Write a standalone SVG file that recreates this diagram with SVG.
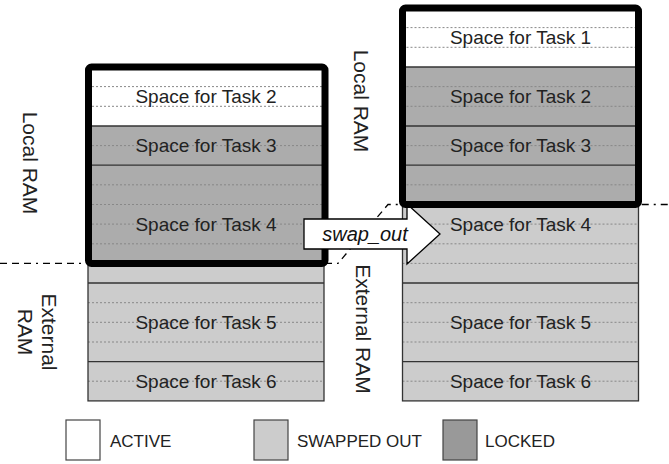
<svg xmlns="http://www.w3.org/2000/svg" width="669" height="464" viewBox="0 0 669 464">
<defs>
<style>
.active{fill:#ffffff}
.swapped{fill:#cccccc}
.locked{fill:#acacac}
.dot{stroke:#888888;stroke-width:1;stroke-dasharray:2,2;fill:none}
.sep{stroke:#333333;stroke-width:1.3;fill:none}
.col{stroke:#333333;stroke-width:1.3;fill:none}
.frame{stroke:#000000;stroke-width:7;fill:none;stroke-linejoin:round}
.cell{font-family:"Liberation Sans",Arial,sans-serif;font-size:19px;fill:#222222;text-anchor:middle;dominant-baseline:central}
.side{font-family:"Liberation Sans",Arial,sans-serif;font-size:21px;fill:#222222;text-anchor:middle;dominant-baseline:central}
.leg{font-family:"Liberation Sans",Arial,sans-serif;font-size:17px;fill:#222222;dominant-baseline:central}
.legbox{stroke:#444444;stroke-width:1.2}
</style>
</defs>
<rect width="669" height="464" fill="#ffffff"/>

<g id="boundary">
<path d="M0,263.4 L338,263.4 L388,204.5 L669,204.5" fill="none" stroke="#000" stroke-width="1.3" stroke-dasharray="7,5,7,5,7,5,2,5"/>
</g>

<g id="left-memory">
<rect class="active" x="88" y="67" width="236" height="59"/>
<rect class="locked" x="88" y="126" width="236" height="137.4"/>
<rect class="swapped" x="88" y="263.4" width="236" height="137.5"/>
<g class="dot">
<line x1="88" y1="86.6" x2="324" y2="86.6"/>
<line x1="88" y1="106.3" x2="324" y2="106.3"/>
<line x1="88" y1="145.6" x2="324" y2="145.6"/>
<line x1="88" y1="184.8" x2="324" y2="184.8"/>
<line x1="88" y1="204.5" x2="324" y2="204.5"/>
<line x1="88" y1="224.1" x2="324" y2="224.1"/>
<line x1="88" y1="243.8" x2="324" y2="243.8"/>
<line x1="88" y1="302.7" x2="324" y2="302.7"/>
<line x1="88" y1="322.3" x2="324" y2="322.3"/>
<line x1="88" y1="342" x2="324" y2="342"/>
<line x1="88" y1="381.2" x2="324" y2="381.2"/>
</g>
<g class="sep">
<line x1="88" y1="126" x2="324" y2="126"/>
<line x1="88" y1="165.2" x2="324" y2="165.2"/>
<line x1="88" y1="283" x2="324" y2="283"/>
<line x1="88" y1="361.6" x2="324" y2="361.6"/>
</g>
<rect class="col" x="88" y="67" width="236" height="333.9"/>
<text class="cell" x="206" y="96.5">Space for Task 2</text>
<text class="cell" x="206" y="145.6">Space for Task 3</text>
<text class="cell" x="206" y="224.1">Space for Task 4</text>
<text class="cell" x="206" y="322.3">Space for Task 5</text>
<text class="cell" x="206" y="381.2">Space for Task 6</text>
<rect class="frame" x="88.5" y="67" width="236.5" height="196.4" rx="3"/>
<text class="side" transform="translate(30,163) rotate(90)">Local RAM</text>
<text class="side" transform="translate(49,332) rotate(90)">External</text>
<text class="side" transform="translate(25,332) rotate(90)">RAM</text>
</g>

<g id="right-memory">
<rect class="active" x="402.5" y="8" width="236" height="59"/>
<rect class="locked" x="402.5" y="67" width="236" height="137.5"/>
<rect class="swapped" x="402.5" y="204.5" width="236" height="196.4"/>
<g class="dot">
<line x1="402.5" y1="27.6" x2="638.5" y2="27.6"/>
<line x1="402.5" y1="47.3" x2="638.5" y2="47.3"/>
<line x1="402.5" y1="86.6" x2="638.5" y2="86.6"/>
<line x1="402.5" y1="106.3" x2="638.5" y2="106.3"/>
<line x1="402.5" y1="145.6" x2="638.5" y2="145.6"/>
<line x1="402.5" y1="184.8" x2="638.5" y2="184.8"/>
<line x1="402.5" y1="224.1" x2="638.5" y2="224.1"/>
<line x1="402.5" y1="243.8" x2="638.5" y2="243.8"/>
<line x1="402.5" y1="263.4" x2="638.5" y2="263.4"/>
<line x1="402.5" y1="302.7" x2="638.5" y2="302.7"/>
<line x1="402.5" y1="322.3" x2="638.5" y2="322.3"/>
<line x1="402.5" y1="342" x2="638.5" y2="342"/>
<line x1="402.5" y1="381.2" x2="638.5" y2="381.2"/>
</g>
<g class="sep">
<line x1="402.5" y1="67" x2="638.5" y2="67"/>
<line x1="402.5" y1="126" x2="638.5" y2="126"/>
<line x1="402.5" y1="165.2" x2="638.5" y2="165.2"/>
<line x1="402.5" y1="283" x2="638.5" y2="283"/>
<line x1="402.5" y1="361.6" x2="638.5" y2="361.6"/>
</g>
<rect class="col" x="402.5" y="8" width="236" height="392.9"/>
<text class="cell" x="520.5" y="37.5">Space for Task 1</text>
<text class="cell" x="520.5" y="96.5">Space for Task 2</text>
<text class="cell" x="520.5" y="145.6">Space for Task 3</text>
<text class="cell" x="520.5" y="224.1">Space for Task 4</text>
<text class="cell" x="520.5" y="322.3">Space for Task 5</text>
<text class="cell" x="520.5" y="381.2">Space for Task 6</text>
<text class="side" transform="translate(361,101) rotate(90)">Local RAM</text>
<text class="side" transform="translate(363,329) rotate(90)">External RAM</text>
</g>

<g id="connectors">
<g id="swap_out">
<polygon points="304,219 407,219 407,204 440,234 407,264 407,249 304,249" fill="#ffffff" stroke="#000000" stroke-width="1.3" stroke-linejoin="miter"/>
<text x="365" y="234" font-family="'Liberation Sans',Arial,sans-serif" font-size="20" font-style="italic" fill="#111111" text-anchor="middle" dominant-baseline="central">swap_out</text>
</g>
</g>

<g id="right-local-frame">
<rect class="frame" x="402.5" y="8" width="236" height="196.5" rx="3"/>
</g>

<g id="legend">
<g id="legend-active">
<rect class="active legbox" x="66" y="420" width="34" height="40"/>
<text class="leg" x="110" y="441">ACTIVE</text>
</g>
<g id="legend-swapped">
<rect class="swapped legbox" x="254" y="420" width="34" height="40"/>
<text class="leg" x="297" y="441">SWAPPED OUT</text>
</g>
<g id="legend-locked">
<rect class="legbox" fill="#999999" x="443" y="420" width="34" height="40"/>
<text class="leg" x="485" y="441">LOCKED</text>
</g>
</g>
</svg>
